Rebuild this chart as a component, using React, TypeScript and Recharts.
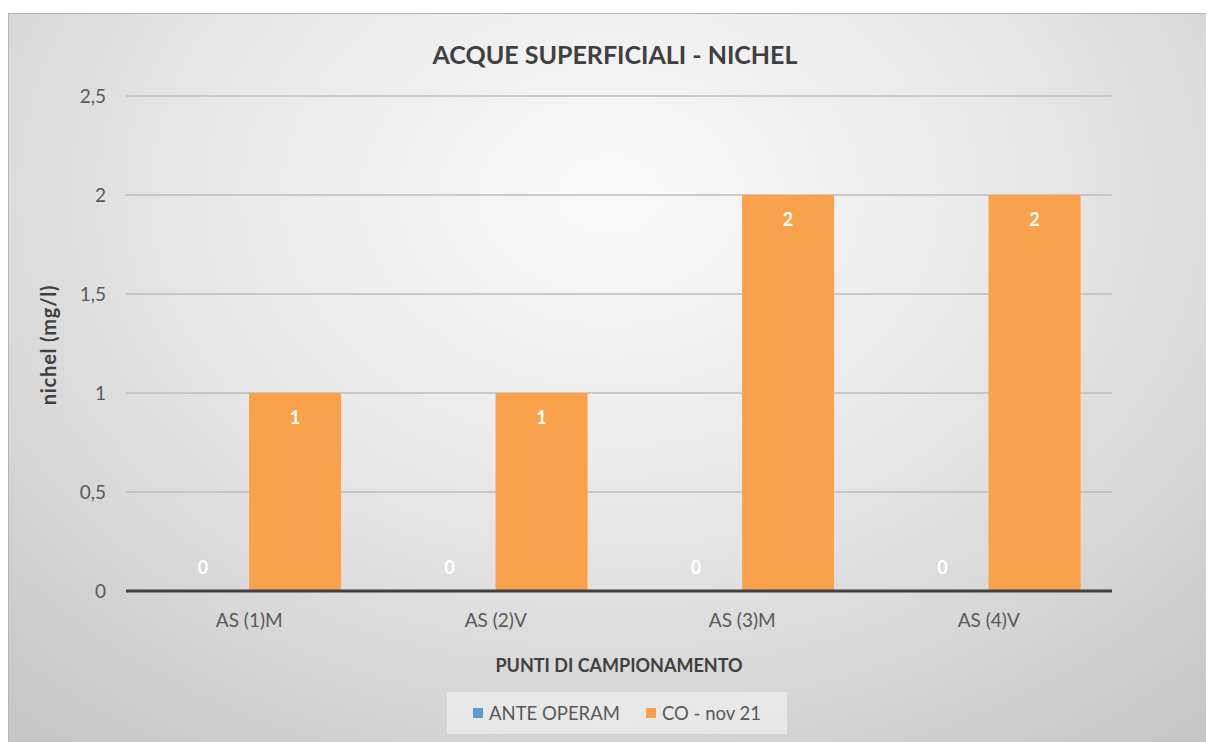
import { BarChart, Bar, XAxis, YAxis, CartesianGrid } from 'recharts';

const categories = ['AS (1)M', 'AS (2)V', 'AS (3)M', 'AS (4)V'];
const anteOperam = [0, 0, 0, 0];
const coNov21 = [1, 1, 2, 2];
const yTicks = [0, 0.5, 1, 1.5, 2, 2.5];

const SERIES = [
  { key: 'ante', name: 'ANTE OPERAM', color: '#5B9BD5', values: anteOperam },
  { key: 'co', name: 'CO - nov 21', color: '#F9A24B', values: coNov21 },
];

const data = categories.map((cat, i) => ({
  cat,
  ante: anteOperam[i],
  co: coNov21[i],
}));

const FONT = 'Lato, "Open Sans", sans-serif';

// Excel puts labels inside the top of the bar; a zero bar gets its label just above the base
const renderLabel = (props: any) => {
  const { x, y, width, value } = props;
  const ty = value === 0 ? y - 17 : y + 31;
  return (
    <text
      x={x + width / 2}
      y={ty}
      textAnchor="middle"
      fill="#ffffff"
      fontWeight={700}
      fontSize={18}
      fontFamily={FONT}
    >
      {value}
    </text>
  );
};

const LegendBox = () => (
  <div
    style={{
      position: 'absolute',
      left: 439,
      top: 679,
      width: 340,
      height: 42,
      boxSizing: 'border-box',
      paddingLeft: 26,
      background: 'rgba(240,240,240,0.7)',
      display: 'flex',
      alignItems: 'center',
      gap: 26,
      fontSize: 18.5,
      color: '#595959',
    }}
  >
    {SERIES.map(s => (
      <span key={s.key} style={{ display: 'flex', alignItems: 'center' }}>
        <span style={{ width: 10, height: 10, background: s.color, marginRight: 6 }} />
        {s.name}
      </span>
    ))}
  </div>
);

export default function App() {
  return (
    <div
      style={{
        position: 'relative',
        marginTop: 5,
        width: 1206,
        height: 729,
        background:
          'radial-gradient(ellipse 75% 95% at 50% 25%, #fafafa 0%, #e8e8e8 45%, #d6d6d6 75%, #c6c6c6 100%)',
        boxShadow: 'inset 1px 1px 0 #b5b5b5',
        fontFamily: FONT,
      }}
    >
      <div
        style={{
          position: 'absolute',
          top: 26,
          left: 0,
          width: 1214,
          textAlign: 'center',
          fontSize: 25,
          fontWeight: 700,
          color: '#404040',
        }}
      >
        ACQUE SUPERFICIALI - NICHEL
      </div>
      <div
        style={{
          position: 'absolute',
          left: 40,
          top: 332,
          transform: 'translate(-50%, -50%) rotate(-90deg)',
          whiteSpace: 'nowrap',
          fontSize: 20,
          letterSpacing: 0.8,
          fontWeight: 700,
          color: '#404040',
        }}
      >
        nichel (mg/l)
      </div>
      <div
        style={{
          position: 'absolute',
          top: 641,
          left: 118,
          width: 986,
          textAlign: 'center',
          fontSize: 18,
          fontWeight: 700,
          color: '#404040',
        }}
      >
        PUNTI DI CAMPIONAMENTO
      </div>
      <LegendBox />
      <BarChart
        width={1206}
        height={729}
        data={data}
        margin={{ top: 83, right: 102, bottom: 111, left: 0 }}
        barCategoryGap="12.6%"
        barGap={0}
      >
        <CartesianGrid vertical={false} stroke="#bdbdbd" strokeWidth={1.5} />
        <XAxis
          dataKey="cat"
          height={40}
          tickLine={false}
          tickMargin={17}
          axisLine={{ stroke: '#404040', strokeWidth: 3 }}
          tick={{ fill: '#595959', fontSize: 19, fontFamily: FONT }}
        />
        <YAxis
          width={118}
          domain={[0, 2.5]}
          ticks={yTicks}
          axisLine={false}
          tickLine={false}
          tickMargin={14}
          tickFormatter={(v: number) => String(v).replace('.', ',')}
          tick={{ fill: '#595959', fontSize: 19, fontFamily: FONT }}
        />
        {SERIES.map(s => (
          <Bar
            key={s.key}
            dataKey={s.key}
            name={s.name}
            fill={s.color}
            minPointSize={0.01}
            label={renderLabel}
            isAnimationActive={false}
          />
        ))}
      </BarChart>
    </div>
  );
}
